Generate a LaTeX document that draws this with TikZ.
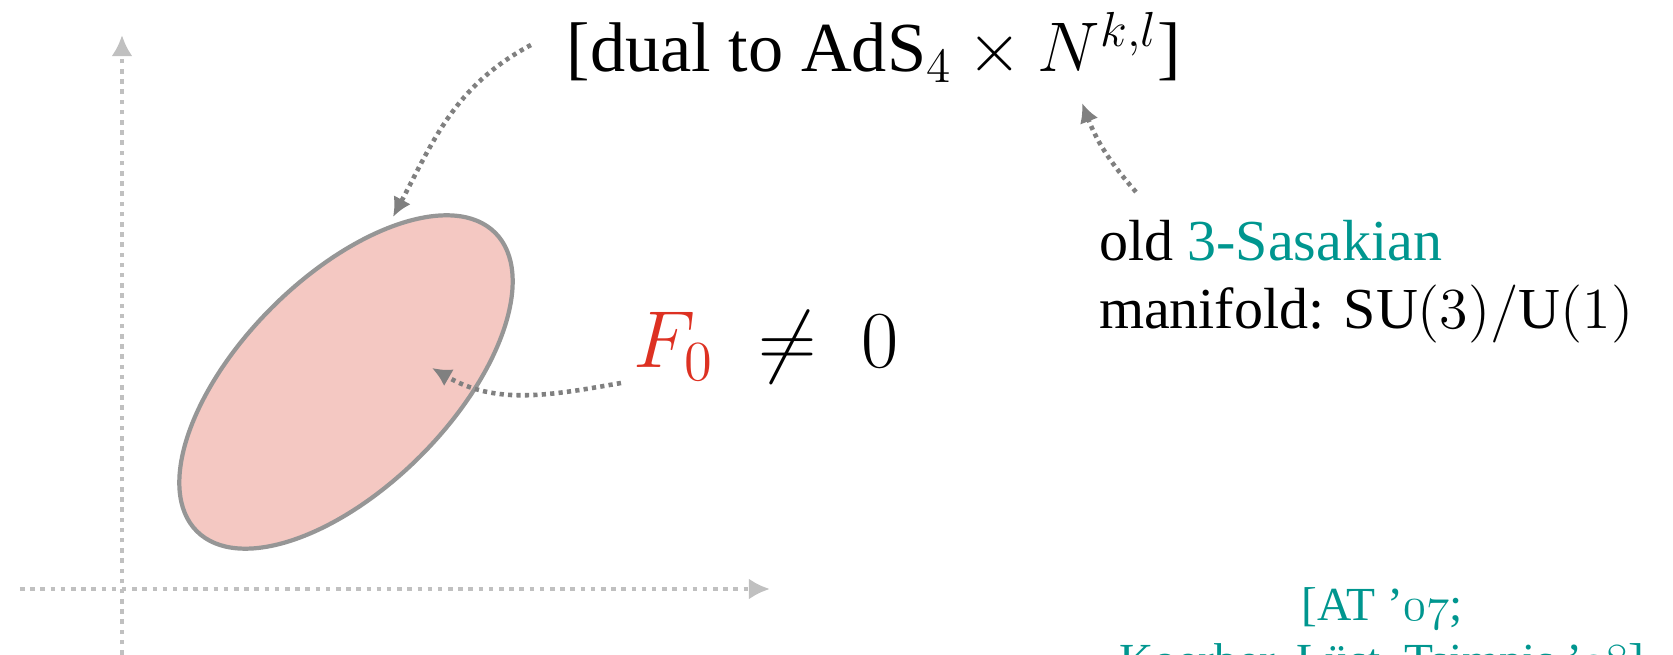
\RequirePackage{fix-cm}
\documentclass[tikz,border=0pt]{standalone}
\usepackage{fontspec}
\setmainfont{Liberation Serif}
\usepackage{tikz}
\usetikzlibrary{arrows.meta,positioning,shapes.geometric}
\definecolor{axisgray}{RGB}{192,192,192}
\definecolor{pointgray}{RGB}{128,128,128}
\definecolor{blobgray}{RGB}{150,150,150}
\definecolor{blobpink}{RGB}{244,200,194}
\definecolor{fluxred}{RGB}{221,49,34}
\definecolor{sasteal}{RGB}{0,150,143}
\newcommand{\osnum}[1]{{\usefont{OML}{cmm}{m}{it}#1}}
\tikzset{
  axisline/.style={draw=axisgray,line width=1.2pt,dash pattern=on 1.3pt off 1.6pt,-{Latex[length=6pt,width=6pt]}},
  pointer/.style={draw=pointgray,line width=1.3pt,dash pattern=on 1.2pt off 1.2pt,-{Latex[length=5.5pt,width=5.5pt]}},
  regionblob/.style={draw=blobgray,line width=1.2pt,fill=blobpink,ellipse,inner sep=0pt},
  plaintext/.style={inner sep=0pt,outer sep=0pt}
}

\begin{document}
\begin{tikzpicture}
\useasboundingbox (0,0) rectangle (16.73,6.55);
% axes
\coordinate (xfrom) at (0.20,0.66);
\coordinate (xto) at (7.70,0.66);
\coordinate (yfrom) at (1.22,-0.20);
\coordinate (yto) at (1.22,6.20);
\draw[axisline] (xfrom) -- (xto);
\draw[axisline] (yfrom) -- (yto);
% region of solutions
\node[regionblob,minimum width=4.22cm,minimum height=2.10cm,rotate=45] (region) at (3.46,2.73) {};
% texts
\node[plaintext,anchor=base,font=\fontsize{20}{24}\selectfont] (dual) at (8.74,5.83) {[dual to $\mathrm{AdS}_4\times N^{k,l}$]};
\node[plaintext,anchor=base west,font=\fontsize{23}{28}\selectfont] (fzero) at (6.33,2.87) {$\textcolor{fluxred}{F_0}\;\neq\;0$};
\node[plaintext,anchor=base west,align=left,font=\fontsize{16.5}{19.6}\selectfont] (sasaki) at (10.99,3.26) {old \textcolor{sasteal}{3-Sasakian}\\manifold: $\mathrm{SU}(3)/\mathrm{U}(1)$};
\node[plaintext,anchor=base,align=center,text=sasteal,font=\fontsize{13.5}{16.2}\selectfont] (refs) at (13.82,-0.22) {[AT ’\osnum{07};\\Koerber, Lüst, Tsimpis ’\osnum{08}]};
% pointers
\coordinate (dualtip) at (3.93,4.38);
\coordinate (fluxtip) at (4.32,2.87);
\coordinate (fibretip) at (10.82,5.52);
\draw[pointer] ([shift={(-0.36,0.27)}]dual.base west) to[out=208,in=62] (dualtip);
\draw[pointer] ([shift={(-0.12,-0.15)}]fzero.base west) to[out=190,in=-30] (fluxtip);
\draw[pointer] ([shift={(0.37,1.37)}]sasaki.base west) to[bend left=10] (fibretip);
\end{tikzpicture}
\end{document}
